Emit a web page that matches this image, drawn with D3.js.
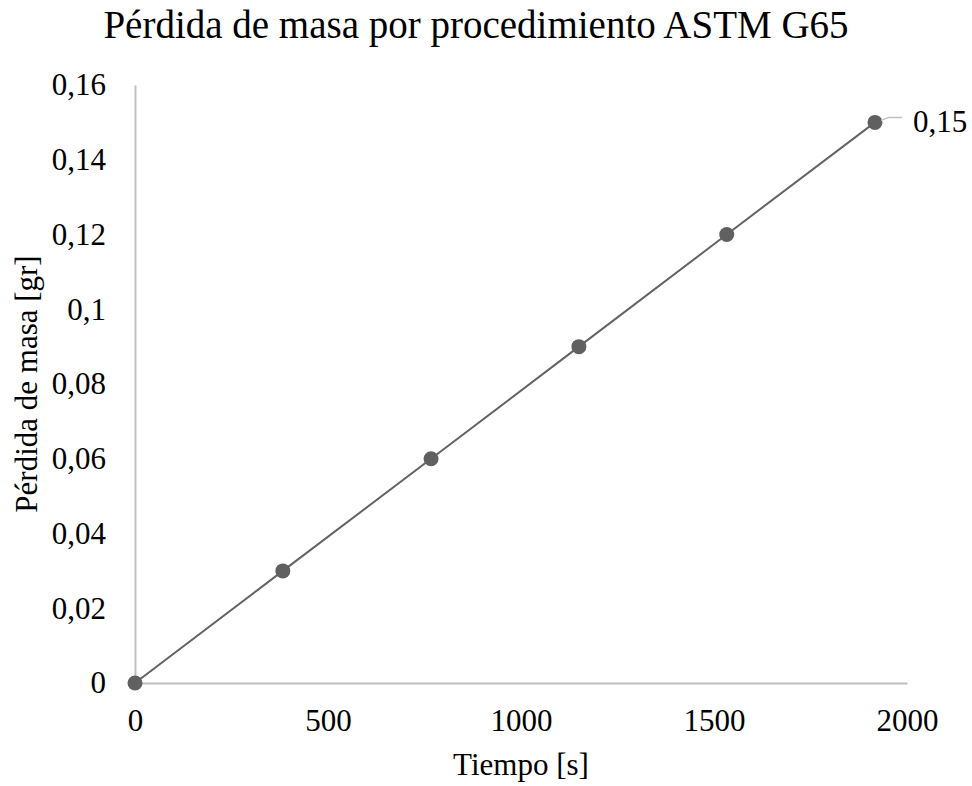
<!DOCTYPE html>
<html><head><meta charset="utf-8">
<script src="https://cdn.jsdelivr.net/npm/d3@7"></script>
<style>body{margin:0;background:#fff}svg{display:block}</style>
</head><body>
<svg id="c" width="972" height="786"></svg>
<script>
const timeValues = [0, 383, 767, 1150, 1533, 1917];
const massLoss = [0, 0.03, 0.06, 0.09, 0.12, 0.15];
const xTicks = [0, 500, 1000, 1500, 2000];
const yTicks = [0, 0.02, 0.04, 0.06, 0.08, 0.1, 0.12, 0.14, 0.16];
const title = "Pérdida de masa por procedimiento ASTM G65";
const xTitle = "Tiempo [s]";
const yTitle = "Pérdida de masa [gr]";

const FONT = '"Liberation Serif", Tinos, "Times New Roman", serif';
const svg = d3.select("#c");
const x = d3.scaleLinear().domain([0, 2000]).range([135, 907]);
const y = d3.scaleLinear().domain([0, 0.16]).range([683, 85]);
const fmt = d => String(d).replace(".", ",");

svg.append("text").attr("x", 476).attr("y", 38).attr("text-anchor", "middle")
  .style("font-family", FONT).style("font-size", "39px").style("fill", "#000").text(title);

const xa = svg.append("g").attr("transform", "translate(0,683)")
  .call(d3.axisBottom(x).tickValues(xTicks).tickFormat(fmt).tickSize(0).tickPadding(26));
xa.select(".domain").attr("stroke", "#bfbfbf").attr("stroke-width", 2);
xa.selectAll("text").style("font-family", FONT).style("font-size", "31px").style("fill", "#000");

const ya = svg.append("g").attr("transform", "translate(135,0)")
  .call(d3.axisLeft(y).tickValues(yTicks).tickFormat(fmt).tickSize(0).tickPadding(29));
ya.select(".domain").attr("stroke", "#bfbfbf").attr("stroke-width", 2);
ya.selectAll("text").style("font-family", FONT).style("font-size", "31px").style("fill", "#000");

svg.append("text").attr("x", 521).attr("y", 775).attr("text-anchor", "middle")
  .style("font-family", FONT).style("font-size", "31px").style("fill", "#000").text(xTitle);
svg.append("text").attr("transform", "translate(37,384) rotate(-90)").attr("text-anchor", "middle")
  .style("font-family", FONT).style("font-size", "31px").style("fill", "#000").text(yTitle);

const data = timeValues.map((t, i) => ({t, m: massLoss[i]}));
svg.append("path").datum(data)
  .attr("d", d3.line().x(d => x(d.t)).y(d => y(d.m)))
  .attr("fill", "none").attr("stroke", "#636363").attr("stroke-width", 2);
svg.selectAll("circle.pt").data(data).join("circle").attr("class", "pt")
  .attr("cx", d => x(d.t)).attr("cy", d => y(d.m)).attr("r", 7.5).attr("fill", "#606060");

const last = data[data.length - 1];
const lx = x(last.t), ly = y(last.m);
svg.append("path").attr("d", `M${lx + 6},${ly - 2} L${lx + 14},${ly - 5} L${lx + 27},${ly - 5}`)
  .attr("fill", "none").attr("stroke", "#bfbfbf").attr("stroke-width", 1.5);
svg.append("text").attr("x", lx + 38).attr("y", ly + 10)
  .style("font-family", FONT).style("font-size", "31px").style("fill", "#000").text(fmt(last.m));
</script>
</body></html>
